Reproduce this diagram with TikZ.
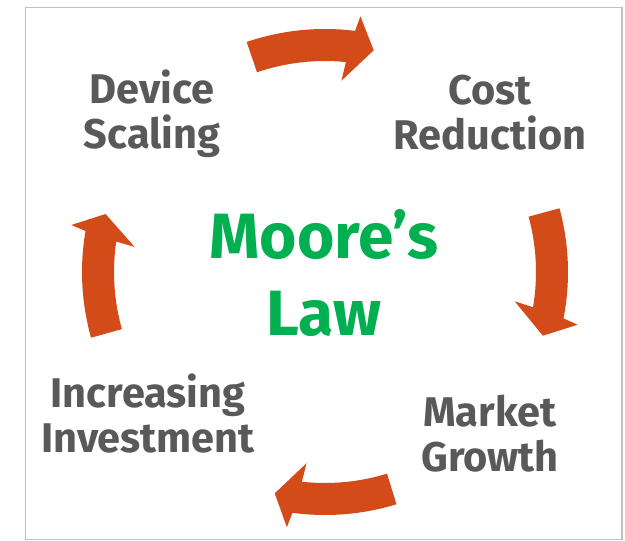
\documentclass[tikz,border=0pt]{standalone}
\usepackage{fontspec}
\setmainfont{Fira Sans}
\usetikzlibrary{calc}
\definecolor{labelgray}{HTML}{595959}
\definecolor{lawgreen}{HTML}{00B050}
\definecolor{arroworange}{HTML}{D34B18}
\definecolor{framegray}{HTML}{C0C0C0}
\tikzset{
  steplabel/.style={text=labelgray, align=center, inner sep=0pt,
    font=\fontsize{41.5}{45}\selectfont\bfseries},
  titlelabel/.style={text=lawgreen, align=center, inner sep=0pt,
    font=\fontsize{64}{77}\selectfont\bfseries},
  cyclearrowfill/.style={fill=arroworange},
}
% curved block arrow on the cycle ring: #1 tail angle, #2 head base angle, #3 tip angle
\newcommand\ringarrow[3]{%
  \fill[cyclearrowfill]
    ($(C)+(#1:243pt)$) arc[start angle=#1, end angle=#2-0.7, radius=243pt]
    -- ($(C)+(#2-1.5:258pt)$) -- ($(C)+(#3:227pt)$) -- ($(C)+(#2+1.5:192pt)$)
    -- ($(C)+(#2+0.7:211pt)$) arc[start angle=#2+0.7, end angle=#1, radius=211pt]
    -- cycle;}
\begin{document}
\begin{tikzpicture}[x=1pt, y=1pt]
  \useasboundingbox (0,0) rectangle (625,541);
  \fill[white] (0,0) rectangle (625,541);
  \draw[framegray, line width=1.5pt] (25.5,1.5) rectangle (622,533.5);
  \coordinate (C) at (325,269);

  \ringarrow{108.8}{83.6}{77.6}
  \ringarrow{15.2}{-10.3}{-16.3}
  \ringarrow{-72.9}{-97}{-102.8}
  \ringarrow{195.7}{171}{165.2}

  \node[titlelabel] (law) at (324,268) {Moore’s\\Law};
  \node[steplabel] (scaling) at (152,427) {Device\\Scaling};
  \node[steplabel] (cost) at (490,428) {Cost\\Reduction};
  \node[steplabel] (growth) at (490,107) {Market\\Growth};
  \node[steplabel] (invest) at (148,127) {Increasing\\Investment};
\end{tikzpicture}
\end{document}
